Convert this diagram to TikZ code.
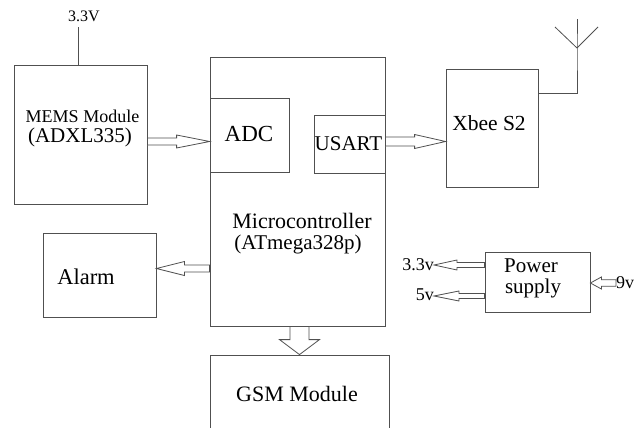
\documentclass[tikz,border=0pt]{standalone}
\usepackage{fontspec}
\setmainfont{Liberation Serif}
\usetikzlibrary{calc}
\definecolor{lc}{RGB}{80,80,80}
\tikzset{
  box/.style={draw=lc, line width=0.8pt, inner sep=0pt, fill=white},
  lbl/.style={inner sep=0pt, anchor=base, text=black},
  barrowstyle/.style={draw=lc, fill=white, line width=0.8pt, line join=miter},
  wire/.style={draw=lc, line width=0.8pt}
}
\newcommand\fs[1]{\fontsize{#1}{#1}\selectfont}
\newcommand\barrow[5]{%
  \coordinate (bs) at (#1);
  \coordinate (be) at (#2);
  \coordinate (bh) at ($(be)!#5!(bs)$);
  \draw[barrowstyle] ($(bs)!#3!90:(be)$) -- ($(bh)!#3!90:(be)$) -- ($(bh)!#4!90:(be)$) -- (be)
    -- ($(bh)!#4!-90:(be)$) -- ($(bh)!#3!-90:(be)$) -- ($(bs)!#3!-90:(be)$) -- cycle;
}
\begin{document}
\begin{tikzpicture}[x=1pt,y=-1pt]
\useasboundingbox (0,0) rectangle (640,428);
% boxes
\node[box, minimum width=133pt, minimum height=139pt] (mems) at (80.5,134.5) {};
\node[box, minimum width=175pt, minimum height=269pt] (micro) at (297.5,191.5) {};
\node[box, minimum width=79pt, minimum height=74pt] (adc) at (249.5,135) {};
\node[box, minimum width=71pt, minimum height=58pt] (usart) at (349.5,144) {};
\node[box, minimum width=92pt, minimum height=118pt] (xbee) at (492,128) {};
\node[box, minimum width=113pt, minimum height=84pt] (alarm) at (99.5,275) {};
\node[box, minimum width=179pt, minimum height=85pt] (gsm) at (299.5,397.5) {};
\node[box, minimum width=105pt, minimum height=60pt] (power) at (537.5,282) {};
% texts
\node[lbl, font=\fs{16}] (t33top) at (84,22) {3.3V};
\node[lbl, font=\fs{18}] (tmems1) at (82.5,122) {MEMS Module};
\node[lbl, font=\fs{21}] (tmems2) at (80,142) {(ADXL335)};
\node[lbl, font=\fs{23}] (tadc) at (249,141) {ADC};
\node[lbl, font=\fs{21}] (tusart) at (348.5,150) {USART};
\node[lbl, font=\fs{22}] (tmicro1) at (302,228) {Microcontroller};
\node[lbl, font=\fs{21}] (tmicro2) at (298,249) {(ATmega328p)};
\node[lbl, font=\fs{21.5}] (txbee) at (489,130) {Xbee S2};
\node[lbl, font=\fs{22.5}] (talarm) at (86,284) {Alarm};
\node[lbl, font=\fs{22}] (tgsm) at (297,401) {GSM Module};
\node[lbl, font=\fs{21}] (tpow1) at (531,272) {Power};
\node[lbl, font=\fs{21}] (tpow2) at (533,293) {supply};
\node[lbl, font=\fs{18}, anchor=base east] (v33) at (434,270) {3.3v};
\node[lbl, font=\fs{18}, anchor=base east] (v5) at (434,300) {5v};
\node[lbl, font=\fs{18}, anchor=base west] (v9) at (616,288) {9v};
% supply wire to MEMS
\draw[wire] ($(mems.north)+(-2.5,0)$) -- ++(0,-38);
% antenna
\coordinate (x1) at ($(xbee.north east)+(0,25)$);
\coordinate (ant) at (577,48);
\draw[wire] (x1) -| (ant) -- ++(0,-29);
\draw[wire] (ant) -- (555,27);
\draw[wire] (ant) -- (598,27);
% block arrows
\coordinate (m1) at ($(mems.east)+(0,7)$);
\barrow{m1}{adc.west |- m1}{3.5pt}{6.5pt}{33pt}
\coordinate (u1) at ($(usart.east)+(0,-2.5)$);
\barrow{u1}{xbee.west |- u1}{4.5pt}{7pt}{31pt}
\coordinate (a1) at ($(alarm.east)+(0,-6.5)$);
\barrow{micro.west |- a1}{a1}{3.5pt}{7pt}{28pt}
\barrow{gsm.north |- micro.south}{gsm.north}{9.5pt}{20pt}{15pt}
\coordinate (p1) at ($(power.west)+(0,-17)$);
\barrow{p1}{v33.east |- p1}{2.5pt}{5pt}{23pt}
\coordinate (p2) at ($(power.west)+(0,14)$);
\barrow{p2}{v5.east |- p2}{2.5pt}{5pt}{25pt}
\coordinate (p3) at ($(power.east)+(0,1)$);
\barrow{v9.west |- p3}{p3}{3.3pt}{6pt}{11pt}
\end{tikzpicture}
\end{document}
